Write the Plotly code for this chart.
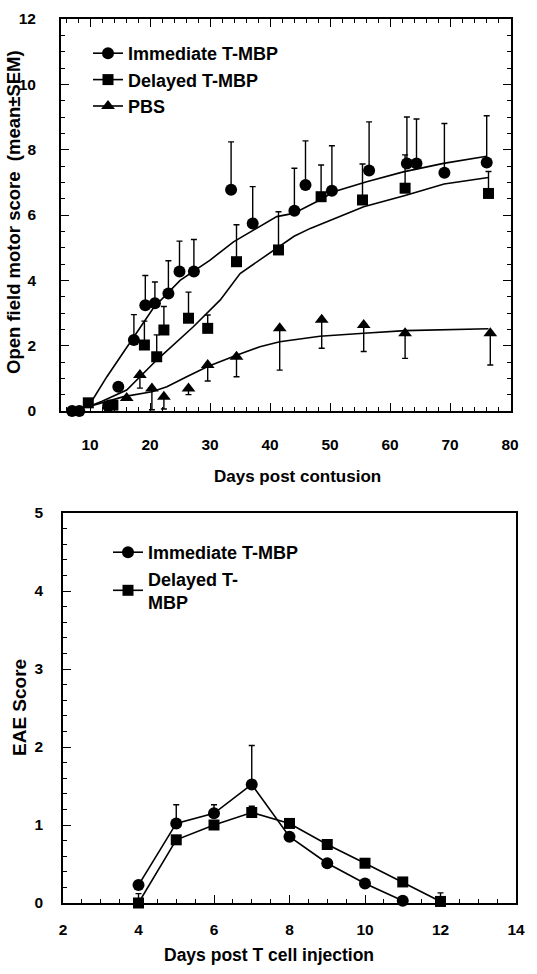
import plotly.graph_objects as go

W, H = 537, 974

# ---------------- Top chart data (Days post contusion) ----------------
imm_days = [7.0, 8.2, 13.0, 14.7, 17.3, 19.2, 20.8, 23.05, 24.9, 27.3, 33.5, 37.1, 44.05, 45.9, 50.3, 56.5, 62.8, 64.4, 69.05, 76.1]
imm_score = [0.0, 0.0, 0.15, 0.74, 2.17, 3.24, 3.30, 3.60, 4.27, 4.27, 6.77, 5.74, 6.13, 6.92, 6.74, 7.36, 7.58, 7.58, 7.29, 7.61]
imm_sem = [0, 0, 0, 0, 0.78, 0.91, 0.65, 1.0, 0.93, 0.98, 1.47, 1.13, 1.30, 1.35, 1.38, 1.49, 1.42, 1.36, 1.51, 1.43]

del_days = [6.6, 9.7, 13.8, 15.5, 19.05, 21.1, 22.3, 26.4, 29.6, 34.4, 41.4, 48.5, 55.4, 62.5, 76.4]
del_score = [-0.1, 0.25, 0.18, -0.12, 2.02, 1.66, 2.48, 2.84, 2.53, 4.57, 4.93, 6.56, 6.46, 6.82, 6.66]
del_sem = [0, 0, 0, 0, 0.73, 0.67, 0.72, 0.80, 0.41, 1.13, 1.17, 0.97, 1.10, 1.02, 0.67]

pbs_days = [16.1, 18.3, 20.3, 22.3, 26.4, 29.6, 34.4, 41.6, 48.6, 55.6, 62.5, 76.7]
pbs_score = [0.40, 1.10, 0.69, 0.44, 0.69, 1.41, 1.66, 2.53, 2.79, 2.63, 2.38, 2.38]
pbs_sem = [0.0, 0.40, 0.65, 0.38, 0.19, 0.49, 0.61, 1.28, 0.87, 0.81, 0.77, 0.97]

imm_fit_x = [9.7, 10.6, 12.8, 15.0, 17.2, 20.6, 25.0, 30.0, 33.9, 37.2, 41.1, 43.9, 48.3, 50.6, 56.1, 62.2, 68.9, 76.1]
imm_fit_y = [0.18, 0.40, 1.05, 1.65, 2.22, 3.17, 4.00, 4.62, 5.18, 5.54, 5.95, 6.05, 6.46, 6.71, 7.02, 7.32, 7.58, 7.80]

del_fit_x = [9.7, 12.0, 16.1, 21.1, 27.2, 31.7, 35.0, 41.4, 44.0, 46.7, 55.6, 62.5, 69.0, 76.4]
del_fit_y = [0.13, 0.30, 0.64, 1.56, 2.58, 3.40, 4.21, 5.03, 5.35, 5.59, 6.25, 6.60, 6.95, 7.15]

pbs_fit_x = [9.7, 15.6, 20.3, 22.8, 26.1, 29.6, 34.4, 38.3, 41.6, 48.3, 55.6, 62.5, 76.4]
pbs_fit_y = [0.13, 0.44, 0.59, 0.74, 1.05, 1.36, 1.71, 1.97, 2.12, 2.29, 2.38, 2.46, 2.52]

# ---------------- Bottom chart data (EAE) ----------------
eae_days_imm = [4, 5, 6, 7, 8, 9, 10, 11]
eae_imm = [0.23, 1.02, 1.15, 1.52, 0.85, 0.51, 0.25, 0.03]
eae_imm_sem = [0, 0.24, 0.11, 0.50, 0, 0, 0, 0]

eae_days_del = [4, 5, 6, 7, 8, 9, 10, 11, 12]
eae_del = [0.0, 0.81, 1.0, 1.16, 1.02, 0.75, 0.51, 0.27, 0.02]
eae_del_sem = [0.12, 0, 0, 0.08, 0, 0, 0, 0, 0.11]

top_xticks = [10, 20, 30, 40, 50, 60, 70, 80]
top_yticks = [0, 2, 4, 6, 8, 10, 12]
bot_xticks = [2, 4, 6, 8, 10, 12, 14]
bot_yticks = [0, 1, 2, 3, 4, 5]

FONT = "Liberation Sans, Arial, sans-serif"
BLACK = "black"

fig = go.Figure()

def err(arr, minus=None):
    return dict(type="data", symmetric=False, array=arr,
                arrayminus=minus if minus is not None else [0] * len(arr),
                color=BLACK, thickness=1.4, width=3)

# fitted curves (top)
for fx, fy in [(imm_fit_x, imm_fit_y), (del_fit_x, del_fit_y), (pbs_fit_x, pbs_fit_y)]:
    fig.add_trace(go.Scatter(x=fx, y=fy, mode="lines", line=dict(color=BLACK, width=1.6),
                             showlegend=False, xaxis="x", yaxis="y", hoverinfo="skip"))

# points (top)
fig.add_trace(go.Scatter(x=imm_days, y=imm_score, mode="markers",
                         marker=dict(symbol="circle", size=12, color=BLACK),
                         error_y=err(imm_sem), showlegend=False, cliponaxis=False,
                         xaxis="x", yaxis="y"))
fig.add_trace(go.Scatter(x=del_days, y=del_score, mode="markers",
                         marker=dict(symbol="square", size=11, color=BLACK),
                         error_y=err(del_sem), showlegend=False, cliponaxis=False,
                         xaxis="x", yaxis="y"))
fig.add_trace(go.Scatter(x=pbs_days, y=pbs_score, mode="markers",
                         marker=dict(symbol="triangle-up", size=12, color=BLACK),
                         error_y=err([0] * len(pbs_sem), pbs_sem), showlegend=False, cliponaxis=False,
                         xaxis="x", yaxis="y"))

# legend entries (top)
for name, sym, sz in [("Immediate T-MBP", "circle", 12), ("Delayed T-MBP", "square", 11), ("PBS", "triangle-up", 12)]:
    fig.add_trace(go.Scatter(x=[None], y=[None], mode="lines+markers", name=name,
                             marker=dict(symbol=sym, size=sz, color=BLACK),
                             line=dict(color=BLACK, width=1.6), legend="legend",
                             xaxis="x", yaxis="y"))

# bottom chart
fig.add_trace(go.Scatter(x=eae_days_imm, y=eae_imm, mode="lines+markers", name="Immediate T-MBP",
                         marker=dict(symbol="circle", size=12, color=BLACK),
                         line=dict(color=BLACK, width=1.6), error_y=err(eae_imm_sem),
                         cliponaxis=False, legend="legend2", xaxis="x2", yaxis="y2"))
fig.add_trace(go.Scatter(x=eae_days_del, y=eae_del, mode="lines+markers", name="Delayed T-<br>MBP",
                         marker=dict(symbol="square", size=11, color=BLACK),
                         line=dict(color=BLACK, width=1.6), error_y=err(eae_del_sem),
                         cliponaxis=False, legend="legend2", xaxis="x2", yaxis="y2"))

def px_x(p):
    return p / W

def px_y(p):
    return 1 - p / H

tickfont = dict(family=FONT, size=15.5, color=BLACK, weight="bold")
minor_common = dict(ticks="inside", ticklen=4, tickwidth=1.2, tickcolor=BLACK)
axis_common = dict(showline=True, linewidth=1.8, linecolor=BLACK, showgrid=False, zeroline=False,
                   ticks="inside", tickcolor=BLACK, tickwidth=1.4, ticklen=8, tickfont=tickfont,
                   automargin=False)

legfont = dict(family=FONT, size=18, color=BLACK, weight="bold")

fig.update_layout(
    template="none",
    width=W, height=H, autosize=False,
    margin=dict(l=0, r=0, t=0, b=0, pad=0),
    paper_bgcolor="white", plot_bgcolor="white",
    showlegend=True,
    xaxis=dict(axis_common, domain=[px_x(61), px_x(511)], range=[5.15, 80.15],
               tickmode="array", tickvals=top_xticks, mirror="ticks", anchor="y",
               ticklabelstandoff=18,
               minor=dict(minor_common, dtick=2, tick0=0)),
    yaxis=dict(axis_common, domain=[px_y(411), px_y(19)], range=[0, 12],
               tickmode="array", tickvals=top_yticks, mirror="ticks", anchor="x",
               ticklabelstandoff=20,
               minor=dict(minor_common, dtick=0.5, tick0=0)),
    xaxis2=dict(axis_common, domain=[px_x(63), px_x(516)], range=[2, 14],
                tickmode="array", tickvals=bot_xticks, mirror=True, anchor="y2",
                ticklabelstandoff=11,
                minor=dict(minor_common, dtick=0.5, tick0=0)),
    yaxis2=dict(axis_common, domain=[px_y(903), px_y(513)], range=[0, 5],
                tickmode="array", tickvals=bot_yticks, mirror=True, anchor="x2",
                ticklabelstandoff=15,
                minor=dict(minor_common, dtick=0.2, tick0=0)),
    legend=dict(x=px_x(88), y=px_y(35), xanchor="left", yanchor="top",
                bgcolor="rgba(0,0,0,0)", borderwidth=0, tracegroupgap=0, itemwidth=30,
                font=legfont),
    legend2=dict(x=px_x(108), y=px_y(534), xanchor="left", yanchor="top",
                 bgcolor="rgba(0,0,0,0)", borderwidth=0, tracegroupgap=0, itemwidth=30,
                 font=legfont),
    annotations=[
        dict(text="Days post contusion", x=px_x(297), y=px_y(476), xref="paper", yref="paper",
             showarrow=False, xanchor="center", yanchor="middle",
             font=dict(family=FONT, size=17, color=BLACK, weight="bold")),
        dict(text="Open field motor score  (mean±SEM)", x=px_x(13), y=px_y(212), xref="paper", yref="paper",
             showarrow=False, xanchor="center", yanchor="middle", textangle=-90,
             font=dict(family=FONT, size=18.5, color=BLACK, weight="bold")),
        dict(text="Days post T cell injection", x=px_x(269), y=px_y(955), xref="paper", yref="paper",
             showarrow=False, xanchor="center", yanchor="middle",
             font=dict(family=FONT, size=17.5, color=BLACK, weight="bold")),
        dict(text="EAE Score", x=px_x(19), y=px_y(708), xref="paper", yref="paper",
             showarrow=False, xanchor="center", yanchor="middle", textangle=-90,
             font=dict(family=FONT, size=19, color=BLACK, weight="bold")),
    ],
)

fig.write_html("out.html", config={"displayModeBar": False},
               post_script="document.body.style.margin='0px';")
